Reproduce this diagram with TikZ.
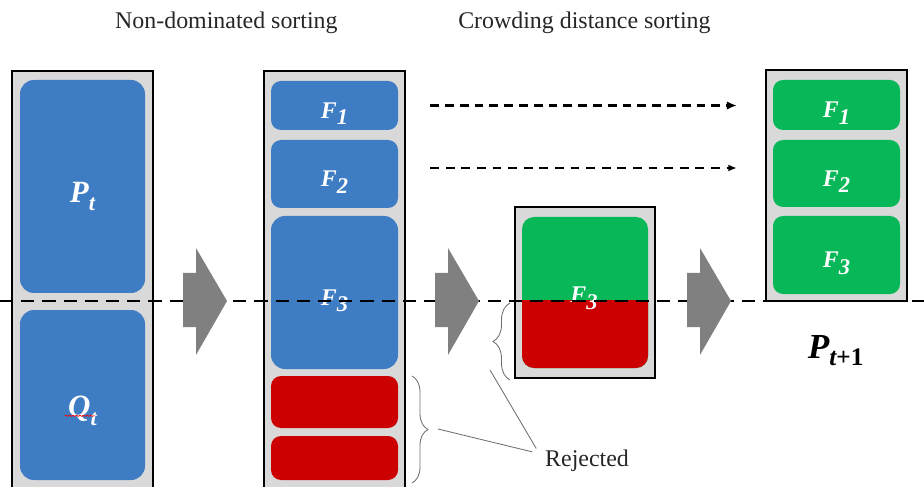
\documentclass[tikz,border=0pt]{standalone}
\usepackage{fontspec}
\setmainfont{Liberation Serif}
\usepackage{xcolor}
\usepackage{tikz}
\usetikzlibrary{arrows.meta,decorations.pathreplacing,decorations.pathmorphing}

\definecolor{frontblue}{RGB}{62,125,195}
\definecolor{keepgreen}{RGB}{8,184,88}
\definecolor{rejectred}{RGB}{204,0,0}
\definecolor{poolgray}{RGB}{217,217,217}
\definecolor{stepgray}{RGB}{128,128,128}
\definecolor{bracegray}{RGB}{110,110,110}

\newcommand{\lowsub}[1]{\raisebox{-0.6ex}{\fontsize{16}{16}\selectfont #1}}

\begin{document}
\begin{tikzpicture}[
    pool/.style={draw=black, line width=1.2pt, fill=poolgray, rectangle, minimum width=3.525cm, inner sep=0pt},
    front/.style={rectangle, rounded corners=0.25cm, minimum width=3.175cm, inner sep=0pt, text height=0.8cm, text=white, font=\fontsize{17}{17}\selectfont\bfseries\itshape},
    title/.style={anchor=base, text=black!85, font=\fontsize{17}{20}\selectfont},
    cut/.style={line width=1.6pt, dash pattern=on 0.33cm off 0.2cm},
    bracket/.style={draw=bracegray, line width=0.6pt, decorate},
    pointer/.style={draw=bracegray, line width=0.6pt}
]
    \useasboundingbox (0,0) rectangle (23.1,12.15);
    \clip (0,0) rectangle (23.1,12.15);

    % Titles
    \node[title] (ndsort) at (5.66, 11.425) {Non-dominated sorting};
    \node[title] (cdsort) at (14.61, 11.425) {Crowding distance sorting};

    % Combined population
    \node[pool, minimum height=10.875cm] (union) at (2.0625, 4.9375) {};
    \node[front, fill=frontblue, minimum width=3.125cm, minimum height=5.325cm, rounded corners=0.35cm, text height=1.0cm, font=\fontsize{22}{22}\selectfont\bfseries\itshape] (pt) at (2.0625, 7.4875) {P\lowsub{t}};
    \node[front, fill=frontblue, minimum width=3.125cm, minimum height=4.25cm, rounded corners=0.35cm, text height=1.3cm, font=\fontsize{22}{22}\selectfont\bfseries\itshape] (qt) at (2.0625, 2.275) {Q\lowsub{t}};
    \draw[red, line width=0.5pt, decorate, decoration={snake, amplitude=0.4pt, segment length=2.5pt}] ([shift={(-0.44,-0.52)}]qt.center) -- ([shift={(0.3,-0.52)}]qt.center);

    % Fronts after non-dominated sorting
    \node[pool, minimum height=10.875cm] (sorted) at (8.3625, 4.9375) {};
    \node[front, fill=frontblue, minimum height=1.225cm] (f1) at (8.3625, 9.5125) {F\lowsub{1}};
    \node[front, fill=frontblue, minimum height=1.7cm] (f2) at (8.3625, 7.8) {F\lowsub{2}};
    \node[front, fill=frontblue, minimum height=3.825cm, rounded corners=0.35cm] (f3) at (8.3625, 4.8375) {F\lowsub{3}};
    \node[front, fill=rejectred, minimum height=1.3cm] (r1) at (8.3625, 2.1) {};
    \node[front, fill=rejectred, minimum height=1.1cm] (r2) at (8.3625, 0.7) {};

    % Last front, split by crowding distance
    \node[pool, minimum width=3.5cm, minimum height=4.275cm] (crowd) at (14.625, 4.8375) {};
    \node[front, fill=keepgreen, minimum width=3.15cm, minimum height=3.775cm, rounded corners=0.3cm] (f3c) at (14.625, 4.8375) {};
    \begin{scope}
        \clip (12.8, 2.5) rectangle (16.5, 4.625);
        \node[front, fill=rejectred, minimum width=3.15cm, minimum height=3.775cm, rounded corners=0.3cm] (f3r) at (14.625, 4.8375) {};
    \end{scope}
    \node[front, minimum width=0pt] (f3lbl) at (14.6, 4.9) {F\lowsub{3}};

    % Next population
    \node[pool, minimum height=5.775cm] (next) at (20.9125, 7.5125) {};
    \node[front, fill=keepgreen, minimum height=1.25cm] (g1) at (20.9125, 9.525) {F\lowsub{1}};
    \node[front, fill=keepgreen, minimum height=1.675cm] (g2) at (20.9125, 7.8125) {F\lowsub{2}};
    \node[front, fill=keepgreen, minimum height=1.95cm] (g3) at (20.9125, 5.775) {F\lowsub{3}};
    \node[anchor=base, font=\fontsize{25}{28}\selectfont\bfseries\itshape] (ptnext) at (20.89, 3.2) {P\raisebox{-0.45ex}{\fontsize{18}{18}\selectfont t\upshape+1}};

    % Cut line
    \draw[cut] (0, 4.625) -- (23.1, 4.625);

    % Step arrows
    \foreach \x in {4.575, 10.875, 17.175} {
        \fill[stepgray] (\x, 5.325) -- ++(0.325, 0) -- ++(0, 0.625) -- (\x+1.1, 4.625) -- (\x+0.325, 3.275) -- ++(0, 0.7) -- (\x, 3.975) -- cycle;
    }

    % Fronts copied over
    \path (f1.east) ++(0.8, 0) coordinate (a1start);
    \path (g1.west |- a1start) ++(-0.9, 0) coordinate (a1end);
    \path (f2.east) ++(0.8, 0.15) coordinate (a2start);
    \path (g2.west |- a2start) ++(-0.9, 0) coordinate (a2end);
    \draw[line width=1.6pt, dash pattern=on 0.22cm off 0.15cm, -{Latex[length=7pt, width=6pt]}] (a1start) -- (a1end);
    \draw[line width=1.1pt, dash pattern=on 0.22cm off 0.17cm, -{Latex[length=6pt, width=5pt]}] (a2start) -- (a2end);

    % Rejected
    \node[title] (rej) at (14.675, 0.5) {Rejected};
    \coordinate (b1top) at (10.3, 2.75);
    \coordinate (b1bot) at (10.3, 0.075);
    \coordinate (b2top) at (12.75, 4.575);
    \coordinate (b2bot) at (12.75, 2.65);
    \draw[bracket, decoration={brace, amplitude=0.4cm}] (b1top) -- (b1bot);
    \draw[bracket, decoration={brace, amplitude=0.425cm}] (b2bot) -- (b2top);
    \coordinate (b1tip) at (10.95, 1.425);
    \coordinate (b2tip) at (12.25, 2.9);
    \draw[pointer] (b1tip) -- ([shift={(-0.2, 0.21)}]rej.west);
    \draw[pointer] (b2tip) -- ([shift={(-0.1, -0.1)}]rej.north west);
\end{tikzpicture}
\end{document}
